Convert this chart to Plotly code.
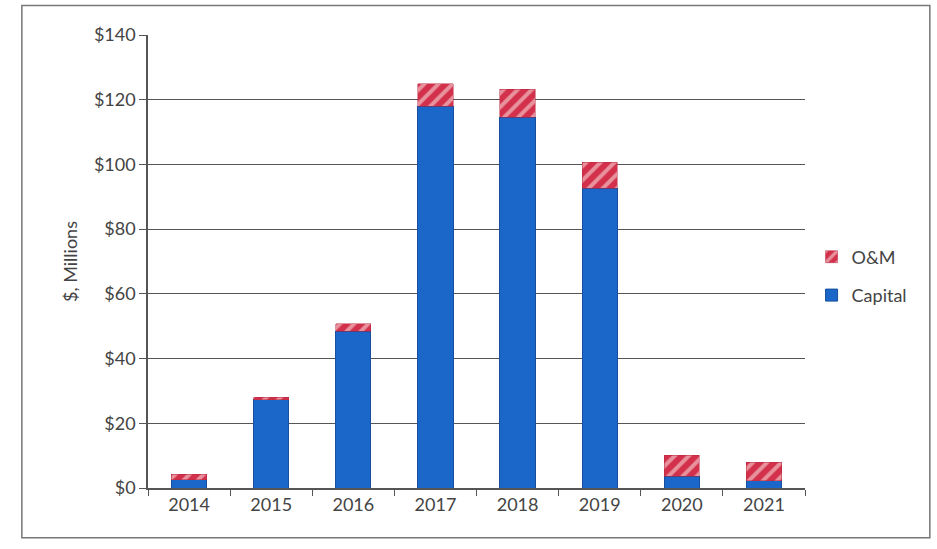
import plotly.graph_objects as go

years = ["2014", "2015", "2016", "2017", "2018", "2019", "2020", "2021"]
capital = [2.5, 27.2, 48.5, 118.0, 114.6, 92.7, 3.7, 2.2]
om = [1.8, 0.8, 2.2, 7.0, 8.6, 8.0, 6.5, 5.8]
y_ticks = [0, 20, 40, 60, 80, 100, 120, 140]
y_labels = ["$0", "$20", "$40", "$60", "$80", "$100", "$120", "$140"]

font_family = "Lato, Open Sans, sans-serif"

fig = go.Figure()
fig.add_trace(go.Bar(
    x=years, y=capital, name="Capital", legendgroup="cap", legendrank=2,
    marker=dict(color="#1a66c9", line=dict(color="#174f9e", width=1)),
))
fig.add_trace(go.Bar(
    x=years, y=om, name="O&M", legendgroup="om", legendrank=1,
    marker=dict(color="#d3304c", line=dict(color="#b8283f", width=0.5),
                pattern=dict(shape="/", fgcolor="#fbf3ee", size=10, solidity=0.4)),
))

fig.update_layout(
    width=937, height=549,
    barmode="stack", bargap=0.57,
    paper_bgcolor="white", plot_bgcolor="white",
    margin=dict(l=148, r=132, t=35, b=61),
    font=dict(family=font_family, size=18, color="#444444"),
    showlegend=True,
    legend=dict(x=1.01, y=0.468, xanchor="left", yanchor="middle",
                traceorder="grouped", font=dict(size=18, color="#444444"),
                itemwidth=30, tracegroupgap=12),
    shapes=[dict(type="rect", xref="paper", yref="paper",
                 x0=-0.192, x1=1.19, y0=-0.11, y1=1.065,
                 line=dict(color="#777777", width=1.5))],
)
fig.update_yaxes(
    range=[0, 140], tickvals=y_ticks, ticktext=y_labels,
    showgrid=True, gridcolor="#555555", gridwidth=1,
    showline=True, linecolor="#555555", linewidth=1.5,
    ticks="outside", ticklen=7, tickcolor="#555555",
    title=dict(text="$, Millions", font=dict(size=18, color="#444444"), standoff=12),
    zeroline=False,
)
fig.update_xaxes(
    showgrid=False, showline=True, linecolor="#555555", linewidth=1.5,
    ticks="outside", ticklen=6, tickson="boundaries", tickcolor="#555555",
)

fig.write_html("out.html")
